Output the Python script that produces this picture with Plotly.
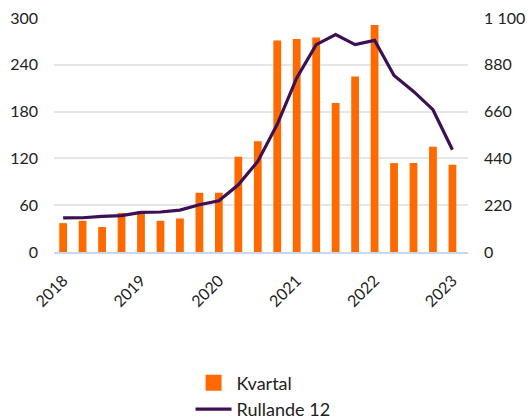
import plotly.graph_objects as go

quarters = list(range(21))
year_ticks = [0, 4, 8, 12, 16, 20]
year_labels = ["2018", "2019", "2020", "2021", "2022", "2023"]
kvartal = [37, 40, 32, 50, 52, 40, 43, 76, 76, 122, 142, 271, 273, 275, 191, 225, 291, 114, 114, 135, 112]
rullande = [160, 161, 167, 171, 186, 188, 197, 222, 241, 316, 426, 600, 818, 975, 1022, 975, 995, 830, 755, 669, 481]

left_ticks = [0, 60, 120, 180, 240, 300]
right_ticks = [0, 220, 440, 660, 880, 1100]
right_labels = ["0", "220", "440", "660", "880", "1 100"]

ORANGE = "#FF6A00"
PURPLE = "#3C1053"

fig = go.Figure()
fig.add_trace(go.Bar(x=quarters, y=kvartal, name="Kvartal", marker_color=ORANGE,
                     marker_line_width=0, yaxis="y", showlegend=False))
# legend entry for the bars (square swatch like the reference)
fig.add_trace(go.Scatter(x=[None], y=[None], name="Kvartal", mode="markers",
                         marker=dict(symbol="square", size=19, color=ORANGE), yaxis="y"))
fig.add_trace(go.Scatter(x=quarters, y=rullande, name="Rullande 12", mode="lines",
                         line=dict(color=PURPLE, width=3.2), yaxis="y2"))

font = dict(family="Lato, 'Open Sans', sans-serif", size=16, color="#222222")
fig.update_layout(
    width=530, height=419,
    margin=dict(l=54, r=62, t=18, b=167),
    paper_bgcolor="white", plot_bgcolor="white",
    font=font,
    bargap=0.6,
    showlegend=True,
    legend=dict(orientation="v", x=0.505, xanchor="center", yref="container", y=0.13, yanchor="top",
                font=dict(size=18, color="#222222"), itemwidth=36, tracegroupgap=0,
                itemsizing="trace"),
    xaxis=dict(range=[-0.47, 20.8], tickmode="array", tickvals=year_ticks, ticktext=year_labels,
               tickangle=-45, showgrid=False, showline=True, linecolor="#ccd6eb", linewidth=2,
               ticks="", zeroline=False, tickfont=dict(size=16), automargin=False,
               ticklabelstandoff=11),
    yaxis=dict(range=[0, 300], tickmode="array", tickvals=left_ticks, showgrid=True,
               gridcolor="#e6e6e6", gridwidth=2, zeroline=False, ticks="", tickfont=dict(size=16),
               ticklabelstandoff=15, automargin=False),
    yaxis2=dict(range=[0, 1100], tickmode="array", tickvals=right_ticks, ticktext=right_labels,
                overlaying="y", side="right", showgrid=False, zeroline=False, ticks="",
                tickfont=dict(size=16), ticklabelstandoff=15, automargin=False),
)

fig.write_html("out.html", config={"displayModeBar": False},
               post_script="document.body.style.margin='0px';")
